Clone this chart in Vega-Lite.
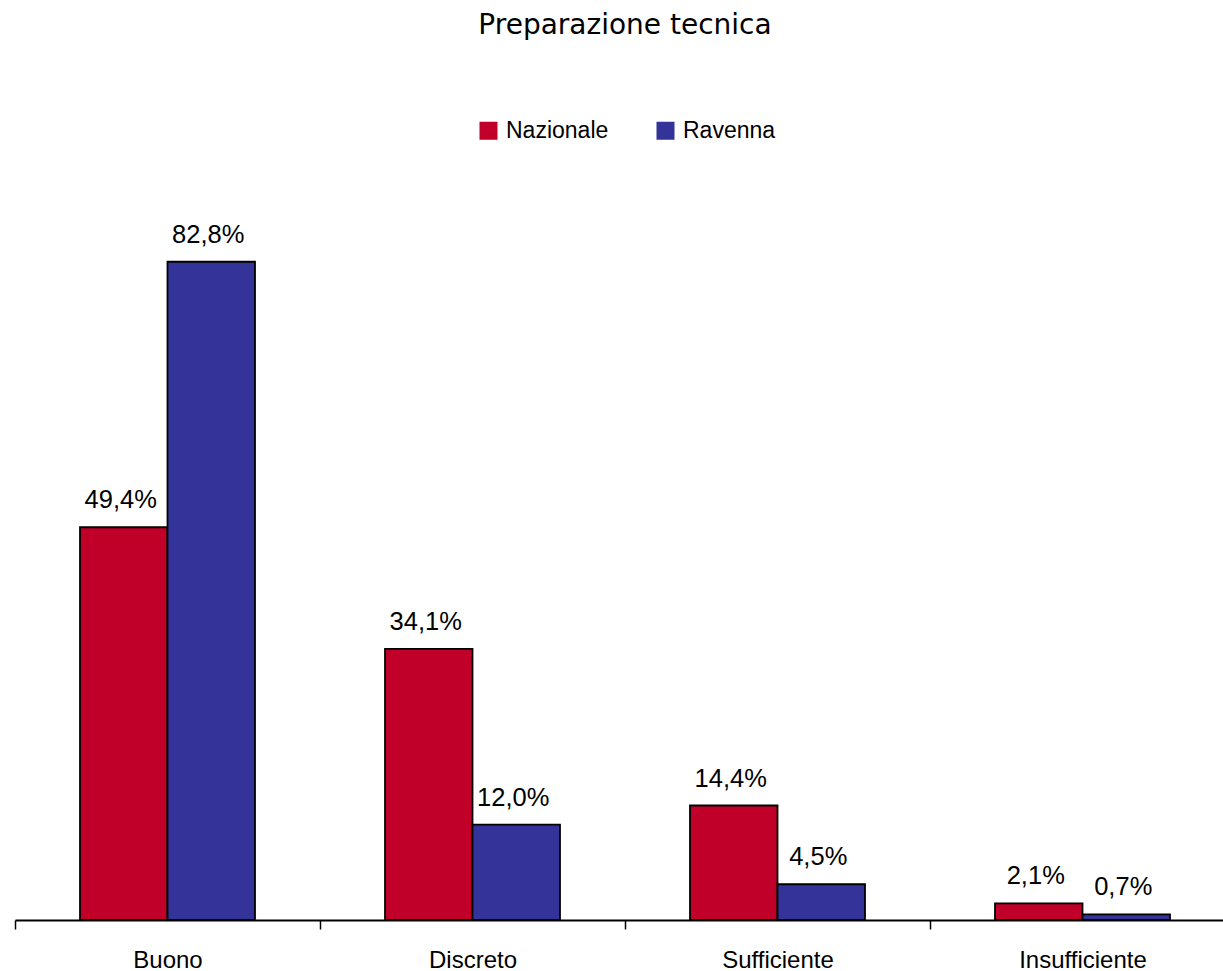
{
  "$schema": "https://vega.github.io/schema/vega-lite/v6.json",
  "width": 1220,
  "height": 795,
  "autosize": {"type": "none"},
  "padding": {"left": 15, "top": 125, "right": 0, "bottom": 51},
  "background": "white",
  "config": {
    "font": "Liberation Sans",
    "view": {"stroke": null},
    "locale": {"number": {"decimal": ",", "thousands": ".", "grouping": [3], "currency": ["", "€"]}}
  },
  "title": {
    "text": "Preparazione tecnica",
    "fontSize": 28,
    "fontWeight": "normal",
    "color": "black",
    "font": "DejaVu Sans",
    "anchor": "middle",
    "offset": 79
  },
  "data": {
    "values": [
      {"giudizio": "Buono", "serie": "Nazionale", "valore": 0.494},
      {"giudizio": "Buono", "serie": "Ravenna", "valore": 0.828},
      {"giudizio": "Discreto", "serie": "Nazionale", "valore": 0.341},
      {"giudizio": "Discreto", "serie": "Ravenna", "valore": 0.120},
      {"giudizio": "Sufficiente", "serie": "Nazionale", "valore": 0.144},
      {"giudizio": "Sufficiente", "serie": "Ravenna", "valore": 0.045},
      {"giudizio": "Insufficiente", "serie": "Nazionale", "valore": 0.021},
      {"giudizio": "Insufficiente", "serie": "Ravenna", "valore": 0.007}
    ]
  },
  "encoding": {
    "x": {
      "field": "giudizio",
      "type": "nominal",
      "sort": ["Buono", "Discreto", "Sufficiente", "Insufficiente"],
      "scale": {"paddingInner": 0, "paddingOuter": 0},
      "axis": {
        "title": null,
        "labelAngle": 0,
        "labelFontSize": 24,
        "labelColor": "black",
        "labelPadding": 19,
        "labelBaseline": "top",
        "tickBand": "extent",
        "tickSize": 9,
        "tickColor": "black",
        "tickWidth": 1.5,
        "domainColor": "black",
        "domainWidth": 2
      }
    },
    "xOffset": {
      "field": "serie",
      "type": "nominal",
      "scale": {"paddingInner": 0, "paddingOuter": 0.743}
    },
    "y": {
      "field": "valore",
      "type": "quantitative",
      "scale": {"domain": [0, 1]},
      "axis": null
    }
  },
  "layer": [
    {
      "mark": {"type": "bar", "stroke": "black", "strokeWidth": 1.8},
      "encoding": {
        "color": {
          "field": "serie",
          "type": "nominal",
          "scale": {"domain": ["Nazionale", "Ravenna"], "range": ["#C00028", "#333399"]},
          "legend": {
            "title": null,
            "orient": "none",
            "direction": "horizontal",
            "legendX": 462,
            "legendY": -6,
            "padding": 0,
            "symbolType": "square",
            "symbolSize": 324,
            "symbolStrokeWidth": 0,
            "labelFontSize": 23,
            "labelColor": "black",
            "labelOffset": 6,
            "columnPadding": 45
          }
        }
      }
    },
    {
      "mark": {"type": "text", "baseline": "alphabetic", "dy": -19, "dx": -3, "fontSize": 25.5, "color": "black"},
      "encoding": {
        "text": {"field": "valore", "type": "quantitative", "format": ".1%"}
      }
    }
  ]
}
